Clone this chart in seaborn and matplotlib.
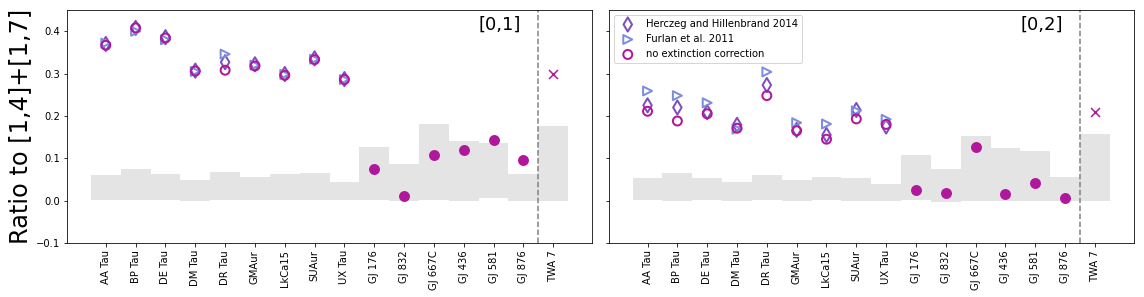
#!/usr/bin/env python3
"""Flux ratios of the [0,1] and [0,2] bands relative to [1,4]+[1,7]."""

import numpy as np
import pandas as pd
import seaborn as sns
import matplotlib.pyplot as plt

STARS = ["AA Tau", "BP Tau", "DE Tau", "DM Tau", "DR Tau", "GMAur", "LkCa15",
         "SUAur", "UX Tau", "GJ 176", "GJ 832", "GJ 667C", "GJ 436", "GJ 581",
         "GJ 876", "TWA 7"]
TTS = STARS[:9]
MDWARFS = STARS[9:15]

# [0,1] panel
HH14_01 = [0.370, 0.408, 0.386, 0.307, 0.327, 0.322, 0.299, 0.336, 0.287]
F11_01 = [0.372, 0.400, 0.380, 0.305, 0.346, 0.320, 0.298, 0.334, 0.286]
NOEXT_01 = [0.367, 0.408, 0.384, 0.306, 0.308, 0.318, 0.296, 0.333, 0.286]
MD_01 = [0.075, 0.010, 0.107, 0.120, 0.143, 0.096]
TWA_01 = 0.300
BAND_LO_01 = [0.002, 0.002, 0.002, -0.002, 0.002, 0.002, 0.002, 0.002, 0.002,
              0.002, -0.002, 0.002, -0.002, 0.005, -0.002, -0.002]
BAND_HI_01 = [0.061, 0.075, 0.064, 0.049, 0.068, 0.056, 0.063, 0.066, 0.045,
              0.127, 0.087, 0.181, 0.141, 0.136, 0.063, 0.177]

# [0,2] panel
HH14_02 = [0.225, 0.220, 0.209, 0.179, 0.273, 0.167, 0.155, 0.214, 0.175]
F11_02 = [0.259, 0.248, 0.231, 0.169, 0.304, 0.184, 0.181, 0.212, 0.192]
NOEXT_02 = [0.211, 0.188, 0.205, 0.171, 0.248, 0.165, 0.145, 0.193, 0.180]
MD_02 = [0.025, 0.018, 0.127, 0.016, 0.042, 0.007]
TWA_02 = 0.209
BAND_LO_02 = [0.002, -0.002, 0.002, -0.002, 0.002, -0.002, 0.002, -0.002, -0.002,
              0.002, -0.003, -0.002, -0.002, -0.002, -0.002, -0.002]
BAND_HI_02 = [0.054, 0.066, 0.054, 0.045, 0.061, 0.049, 0.056, 0.054, 0.040,
              0.108, 0.075, 0.153, 0.125, 0.118, 0.056, 0.158]

MAGENTA = "#b0179b"
BLUE = "#7b8de0"
PURPLE = "#7d4fbd"
GREY = "#e4e4e4"


def draw_panel(ax, hh, fu, noext, md, twa, lo, hi, label, legend=False):
    pos = {s: i for i, s in enumerate(STARS)}
    ax.bar(np.arange(len(STARS)), np.array(hi) - np.array(lo), bottom=lo,
           width=1.0, color=GREY, linewidth=0, zorder=1)

    tts = pd.DataFrame({"x": [pos[s] for s in TTS], "hh": hh, "fu": fu, "no": noext})
    sns.scatterplot(data=tts, x="x", y="hh", ax=ax, marker="d", s=100,
                    facecolor="none", edgecolor=PURPLE, linewidth=2,
                    label="Herczeg and Hillenbrand 2014", zorder=3)
    sns.scatterplot(data=tts, x="x", y="fu", ax=ax, marker=">", s=80,
                    facecolor="none", edgecolor=BLUE, linewidth=2,
                    label="Furlan et al. 2011", zorder=3)
    sns.scatterplot(data=tts, x="x", y="no", ax=ax, marker="o", s=80,
                    facecolor="none", edgecolor=MAGENTA, linewidth=2,
                    label="no extinction correction", zorder=4)

    mdw = pd.DataFrame({"x": [pos[s] for s in MDWARFS], "y": md})
    sns.scatterplot(data=mdw, x="x", y="y", ax=ax, marker="o", s=120,
                    color=MAGENTA, edgecolor=MAGENTA, linewidth=0, zorder=4)
    ax.scatter([pos["TWA 7"]], [twa], marker="x", s=80, color=MAGENTA,
               linewidths=1.5, zorder=4)

    ax.axvline(14.5, color="grey", ls="--", lw=1.5, zorder=2)
    ax.text(0.825, 0.935, label, transform=ax.transAxes, ha="center",
            va="center", fontsize=18)

    ax.set_xticks(np.arange(len(STARS)))
    ax.set_xticklabels(STARS, rotation=90)
    ax.set_xlim(-1.3, 16.3)
    ax.set_ylim(-0.1, 0.45)
    ax.set_xlabel("")
    ax.set_ylabel("")
    if legend:
        ax.legend(loc="upper left", fontsize=10)
    else:
        ax.get_legend().remove()


def main():
    sns.set_style("ticks", {"axes.edgecolor": "black", "text.color": "black",
                            "xtick.color": "black", "ytick.color": "black",
                            "axes.labelcolor": "black"})
    plt.rcParams["font.family"] = ["DejaVu Sans"]
    # original was rendered at 72 dpi
    fig, (ax1, ax2) = plt.subplots(1, 2, figsize=(1144 / 72, 297 / 72), dpi=72,
                                   sharey=True)
    fig.subplots_adjust(left=0.0586, right=0.991, top=0.966, bottom=0.182,
                        wspace=0.032)

    draw_panel(ax1, HH14_01, F11_01, NOEXT_01, MD_01, TWA_01,
               BAND_LO_01, BAND_HI_01, "[0,1]")
    draw_panel(ax2, HH14_02, F11_02, NOEXT_02, MD_02, TWA_02,
               BAND_LO_02, BAND_HI_02, "[0,2]", legend=True)

    ax1.set_yticks([-0.1, 0.0, 0.1, 0.2, 0.3, 0.4])
    ax1.set_ylabel("Ratio to [1,4]+[1,7]", fontsize=24)
    for ax in (ax1, ax2):
        ax.tick_params(labelsize=10)
    fig.savefig("out.png", dpi=72)
    plt.close(fig)


if __name__ == "__main__":
    main()
